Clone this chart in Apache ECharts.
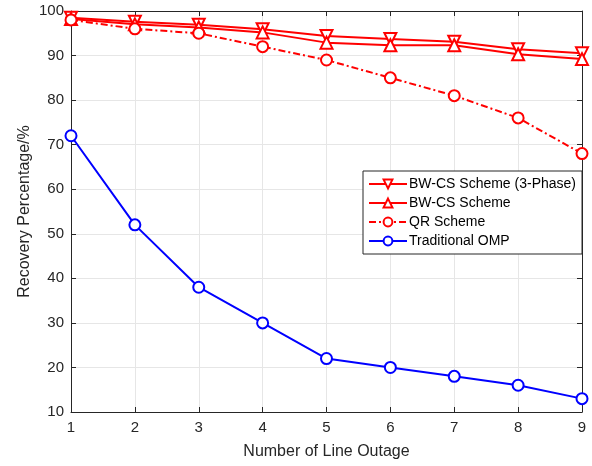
<!DOCTYPE html>
<html>
<head>
<meta charset="utf-8">
<script src="https://cdn.jsdelivr.net/npm/echarts@6/dist/echarts.min.js"></script>
<style>html,body{margin:0;padding:0;background:#fff}#c{width:592px;height:466px}</style>
</head>
<body>
<div id="c"></div>
<script>
const outages = [1, 2, 3, 4, 5, 6, 7, 8, 9];
const bwcs3Phase = [98.5, 97.6, 96.9, 95.9, 94.4, 93.7, 93.1, 91.4, 90.5];
const bwcs = [98.2, 97.0, 96.3, 95.2, 92.9, 92.3, 92.3, 90.3, 89.2];
const qr = [98.0, 96.0, 95.0, 92.0, 89.0, 85.0, 81.0, 76.0, 68.0];
const omp = [72, 52, 38, 30, 22, 20, 18, 16, 13];
const seriesNames = ['BW-CS Scheme (3-Phase)', 'BW-CS Scheme', 'QR Scheme', 'Traditional OMP'];
const xTicks = [1, 2, 3, 4, 5, 6, 7, 8, 9];
const yTicks = [10, 20, 30, 40, 50, 60, 70, 80, 90, 100];

const pairs = v => outages.map((x, i) => [x, v[i]]);
const font = 'Liberation Sans, Arial, Helvetica, sans-serif';
const axisCol = '#262626';

function mkSeries(name, data, color, symbol, rotate, dashed) {
  return {
    name, type: 'line', data: pairs(data), xAxisIndex: 0, yAxisIndex: 0,
    symbol, symbolSize: symbol === 'emptyCircle' ? 11 : 12, symbolRotate: rotate,
    showAllSymbol: true,
    lineStyle: { color, width: 2, type: dashed ? [7, 3, 2, 3] : 'solid' },
    itemStyle: { color, borderColor: color, borderWidth: 2 },
    emphasis: { disabled: true }, animation: false
  };
}

const chart = echarts.init(document.getElementById('c'), null, { renderer: 'canvas' });
chart.setOption({
  backgroundColor: '#fff',
  animation: false,
  grid: { left: 71, right: 10, top: 11, bottom: 54, containLabel: false },
  legend: {
    orient: 'vertical', left: 363, top: 171,
    itemWidth: 38, itemHeight: 11, itemGap: 5,
    padding: [6, 6, 6, 5],
    backgroundColor: '#fff', borderColor: axisCol, borderWidth: 1,
    textStyle: { fontFamily: font, fontSize: 14, color: '#000', padding: [0, 0, 0, -3] },
    data: seriesNames
  },
  xAxis: [{
    type: 'value', min: 1, max: 9, interval: 1, position: 'bottom',
    name: 'Number of Line Outage', nameLocation: 'middle', nameGap: 32, nameMoveOverlap: false,
    nameTextStyle: { fontFamily: font, fontSize: 16, color: axisCol },
    axisLine: { show: true, lineStyle: { color: axisCol, width: 1 } },
    axisTick: { show: true, inside: true, length: 5, lineStyle: { color: axisCol } },
    axisLabel: { fontFamily: font, fontSize: 15, color: axisCol, margin: 8, formatter: v => xTicks.includes(v) ? String(v) : '' },
    splitLine: { show: true, lineStyle: { color: '#e6e6e6', width: 1 } }
  }, {
    type: 'value', min: 1, max: 9, interval: 1, position: 'top',
    axisLine: { show: true, lineStyle: { color: axisCol, width: 1 } },
    axisTick: { show: true, inside: true, length: 5, lineStyle: { color: axisCol } },
    axisLabel: { show: false }, splitLine: { show: false }
  }],
  yAxis: [{
    type: 'value', min: 10, max: 100, interval: 10, position: 'left',
    name: 'Recovery Percentage/%', nameLocation: 'middle', nameGap: 38, nameMoveOverlap: false,
    nameTextStyle: { fontFamily: font, fontSize: 16, color: axisCol },
    axisLine: { show: true, lineStyle: { color: axisCol, width: 1 } },
    axisTick: { show: true, inside: true, length: 5, lineStyle: { color: axisCol } },
    axisLabel: { fontFamily: font, fontSize: 15, color: axisCol, margin: 7, formatter: v => yTicks.includes(v) ? String(v) : '' },
    splitLine: { show: true, lineStyle: { color: '#e6e6e6', width: 1 } }
  }, {
    type: 'value', min: 10, max: 100, interval: 10, position: 'right',
    axisLine: { show: true, lineStyle: { color: axisCol, width: 1 } },
    axisTick: { show: true, inside: true, length: 5, lineStyle: { color: axisCol } },
    axisLabel: { show: false }, splitLine: { show: false }
  }],
  series: [
    mkSeries(seriesNames[0], bwcs3Phase, '#ff0000', 'emptyTriangle', 180, false),
    mkSeries(seriesNames[1], bwcs, '#ff0000', 'emptyTriangle', 0, false),
    mkSeries(seriesNames[2], qr, '#ff0000', 'emptyCircle', 0, true),
    mkSeries(seriesNames[3], omp, '#0000ff', 'emptyCircle', 0, false)
  ]
});
</script>
</body>
</html>
